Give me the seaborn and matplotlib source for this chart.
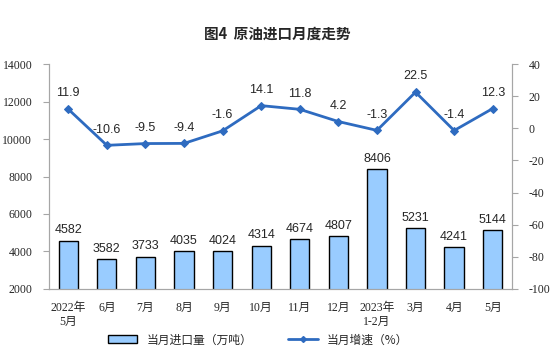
import numpy as np
import pandas as pd
import matplotlib
matplotlib.use("Agg")
import matplotlib.pyplot as plt
import seaborn as sns
from matplotlib.patches import Patch
from matplotlib.lines import Line2D

# data
months = ["2022年\n5月", "6月", "7月", "8月", "9月", "10月", "11月", "12月",
          "2023年\n1-2月", "3月", "4月", "5月"]
imports = [4582, 3582, 3733, 4035, 4024, 4314, 4674, 4807, 8406, 5231, 4241, 5144]
growth = [11.9, -10.6, -9.5, -9.4, -1.6, 14.1, 11.8, 4.2, -1.3, 22.5, -1.4, 12.3]

sns.set_style("white")
plt.rcParams['font.family'] = ['Noto Sans CJK SC', 'DejaVu Sans']
plt.rcParams['axes.unicode_minus'] = False

df = pd.DataFrame({"month": months, "imports": imports, "growth": growth,
                   "idx": np.arange(len(months))})

bar_color = "#99CCFF"
line_color = "#2E6BC0"
axis_grey = "#A6A6A6"
num_font = ['Liberation Serif', 'Noto Sans CJK SC']

fig = plt.figure(figsize=(5.54, 3.57), dpi=100)
ax = fig.add_axes([0.0884, 0.1905, 0.8358, 0.6302])

sns.barplot(data=df, x="month", y="imports", color=bar_color, width=0.5,
            edgecolor="black", linewidth=1.0, saturation=1, ax=ax)
ax.set_ylim(2000, 14000)
ax.set_yticks(np.arange(2000, 14001, 2000))
ax.set_xlim(-0.5, len(months) - 0.5)
ax.set_xlabel("")
ax.set_ylabel("")

for i, v in enumerate(imports):
    ax.annotate(str(v), (i, v), xytext=(0, 3), textcoords="offset points",
                ha="center", va="bottom", fontsize=9, family="Liberation Sans")

ax2 = ax.twinx()
sns.lineplot(data=df, x="idx", y="growth", color=line_color, linewidth=2,
             marker="D", markersize=4, markeredgecolor=line_color, ax=ax2)
ax2.set_ylim(-100, 40)
ax2.set_yticks(np.arange(-100, 41, 20))
ax2.set_ylabel("")
ax2.set_xlim(-0.5, len(months) - 0.5)

for i, v in enumerate(growth):
    ax2.annotate(f"{v:.1f}", (i, v), xytext=(0, 7), textcoords="offset points",
                 ha="center", va="bottom", fontsize=9, family="Liberation Sans")

for a in (ax, ax2):
    for s in a.spines.values():
        s.set_color(axis_grey)
        s.set_linewidth(0.8)
    a.spines["top"].set_visible(False)

ax.tick_params(axis="y", which="both", left=True, length=4, color=axis_grey,
               labelsize=8.5, pad=8)
ax.tick_params(axis="x", bottom=False, labelsize=8.5, pad=6)
ax2.tick_params(axis="y", right=True, length=4, color=axis_grey, labelsize=8.5, pad=8)
for lab in ax.get_yticklabels() + ax2.get_yticklabels() + ax.get_xticklabels():
    lab.set_family(num_font)

fig.text(0.5, 0.907, "图4  原油进口月度走势", ha="center", va="center",
         fontsize=10.5, fontweight="bold")

handles = [Patch(facecolor=bar_color, edgecolor="black", linewidth=1.0),
           Line2D([0], [0], color=line_color, linewidth=2, marker="D", markersize=3)]
fig.legend(handles, ["当月进口量（万吨）", "当月增速（%）"], loc="center",
           bbox_to_anchor=(0.466, 0.048), ncol=2, frameon=False, fontsize=8.5,
           handlelength=2.5, columnspacing=3)

fig.savefig("out.png", dpi=100)
